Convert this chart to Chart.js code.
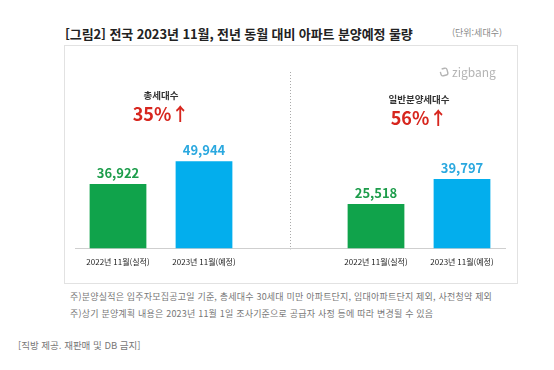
<!DOCTYPE html>
<html lang="ko">
<head>
<meta charset="utf-8">
<script src="https://cdn.jsdelivr.net/npm/chart.js@4.4.0/dist/chart.umd.min.js"></script>
<style>
    html, body { margin: 0; padding: 0; background: #fff; }
    body { width: 554px; height: 370px; position: relative; overflow: hidden; font-family: "Noto Sans CJK KR", "Noto Sans", sans-serif; }
    .abs { position: absolute; white-space: nowrap; line-height: 16px; }
    #title { left: 65px; top: 26px; font-size: 13px; font-weight: bold; color: #222; letter-spacing: -0.1px; }
    #unit { left: 452px; top: 25px; font-size: 9px; color: #888; }
    #box { position: absolute; left: 64px; top: 45px; width: 454px; height: 239px; border: 1px solid #e2e2e2; box-sizing: border-box; }
    #chart-wrap { position: absolute; left: 64px; top: 45px; width: 454px; height: 239px; }
    #logo { left: 439px; top: 64px; font-size: 12px; color: #b4b4b4; display: flex; align-items: center; gap: 3px; }
    .note { left: 70px; font-size: 9px; color: #777; letter-spacing: 0.2px; }
    #note1 { top: 289px; }
    #note2 { top: 306px; }
    #source { left: 18px; top: 337px; font-size: 9.5px; color: #777; }
</style>
</head>
<body>
<div id="title" class="abs">[그림2] 전국 2023년 11월, 전년 동월 대비 아파트 분양예정 물량</div>
<div id="unit" class="abs">(단위:세대수)</div>
<div id="box"></div>
<div id="chart-wrap"><canvas id="chart" width="454" height="239"></canvas></div>
<div id="logo" class="abs">
    <svg width="10" height="10" viewBox="0 0 10 10"><rect x="1.5" y="1.5" width="7" height="7" rx="2" fill="none" stroke="#b4b4b4" stroke-width="1.4" stroke-dasharray="20 4" transform="rotate(-15 5 5)"/></svg>
    <span>zigbang</span>
</div>
<div id="note1" class="abs note">주)분양실적은 입주자모집공고일 기준, 총세대수 30세대 미만 아파트단지, 임대아파트단지 제외, 사전청약 제외</div>
<div id="note2" class="abs note">주)상기 분양계획 내용은 2023년 11월 1일 조사기준으로 공급자 사정 등에 따라 변경될 수 있음</div>
<div id="source" class="abs">[직방 제공. 재판매 및 DB 금지]</div>

<script>
// --- 데이터 ---
const categories = ['2022년 11월(실적)', '2023년 11월(예정)', '', '2022년 11월(실적)', '2023년 11월(예정)'];
const values = [36922, 49944, null, 25518, 39797];
const groupTitles = ['총세대수', '일반분양세대수'];
const groupChanges = ['35%↑', '56%↑'];
const groupIndexes = [[0, 1], [3, 4]];

const GREEN = '#10a34b';
const BLUE = '#03aeed';
const barColors = [GREEN, BLUE, 'rgba(0,0,0,0)', GREEN, BLUE];
const labelColors = ['#1d9d4b', '#2aa8df', '#000', '#1d9d4b', '#2aa8df'];

// 막대 위 값 표시
const valueLabels = {
    id: 'valueLabels',
    afterDatasetsDraw(chart) {
        const ctx = chart.ctx;
        const meta = chart.getDatasetMeta(0);
        ctx.save();
        ctx.font = 'bold 13px "Noto Sans CJK KR"';
        ctx.textAlign = 'center';
        ctx.textBaseline = 'middle';
        meta.data.forEach((bar, i) => {
            if (values[i] == null) return;
            ctx.fillStyle = labelColors[i];
            ctx.fillText(values[i].toLocaleString('en-US'), bar.x, bar.y - 11);
        });
        ctx.restore();
    }
};

// 그룹 제목 + 증감률, 가운데 점선
const groupHeads = {
    id: 'groupHeads',
    afterDraw(chart) {
        const ctx = chart.ctx;
        const x = chart.scales.x;
        const area = chart.chartArea;
        ctx.save();
        // 구분 점선
        const sx = Math.round(x.getPixelForValue(2)) + 0.5;
        ctx.strokeStyle = '#aaa';
        ctx.lineWidth = 1;
        ctx.setLineDash([1, 2]);
        ctx.beginPath();
        ctx.moveTo(sx, area.top - 2);
        ctx.lineTo(sx, area.bottom + 1);
        ctx.stroke();
        ctx.setLineDash([]);

        const yOffsets = [0, 4];
        ctx.textAlign = 'center';
        ctx.textBaseline = 'middle';
        groupTitles.forEach((t, g) => {
            const [a, b] = groupIndexes[g];
            const cx = (x.getPixelForValue(a) + x.getPixelForValue(b)) / 2;
            ctx.font = 'bold 9.5px "Noto Sans CJK KR"';
            ctx.fillStyle = '#333';
            ctx.fillText(t, cx, 50 + yOffsets[g]);
            ctx.font = 'bold 18px "Noto Sans CJK KR"';
            ctx.fillStyle = '#d7261e';
            ctx.fillText(groupChanges[g], cx, 69 + yOffsets[g]);
        });
        ctx.restore();
    }
};

new Chart(document.getElementById('chart').getContext('2d'), {
    type: 'bar',
    data: {
        labels: categories,
        datasets: [{
            data: values,
            backgroundColor: barColors,
            barPercentage: 0.66,
            categoryPercentage: 1.0,
        }]
    },
    options: {
        responsive: false,
        animation: false,
        devicePixelRatio: 1,
        layout: { padding: { left: 11, right: 13, top: 29, bottom: 8 } },
        scales: {
            x: {
                grid: { display: false, drawTicks: false },
                border: { color: '#cfcfcf' },
                ticks: { color: '#222', font: { family: 'Noto Sans CJK KR', size: 8 }, padding: 9, maxRotation: 0, autoSkip: false }
            },
            y: { display: false, min: 0, max: 100000 }
        },
        plugins: { legend: { display: false }, tooltip: { enabled: false } }
    },
    plugins: [valueLabels, groupHeads]
});
</script>
</body>
</html>
